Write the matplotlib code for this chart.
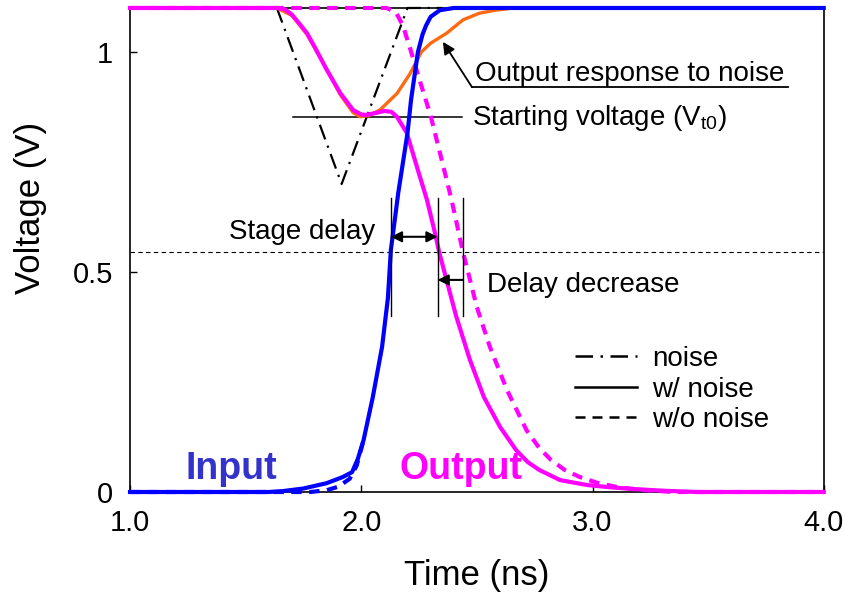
import matplotlib
matplotlib.use("Agg")
import matplotlib.pyplot as plt
from matplotlib.lines import Line2D

plt.rcParams['font.family'] = ['Liberation Sans', 'DejaVu Sans']
plt.rcParams['mathtext.fontset'] = 'custom'
plt.rcParams['mathtext.rm'] = 'Liberation Sans'
plt.rcParams['lines.solid_joinstyle'] = 'round'
plt.rcParams['lines.dash_joinstyle'] = 'round'

# input ramp (with and without noise are nearly identical)
t_in = [1.0, 1.60, 1.66, 1.75, 1.85, 1.92, 1.96, 1.985, 2.01, 2.05, 2.09, 2.115, 2.128,
        2.16, 2.20, 2.215, 2.245, 2.265, 2.28, 2.30, 2.34, 2.40, 4.0]
v_in = [0.0, 0.0, 0.002, 0.008, 0.02, 0.034, 0.045, 0.075, 0.118, 0.216, 0.33, 0.44, 0.55,
        0.68, 0.816, 0.89, 1.0, 1.04, 1.06, 1.08, 1.095, 1.1, 1.1]
t_in_nn = [1.0, 1.78, 1.85, 1.90, 1.95, 1.98, 2.01]
v_in_nn = [0.0, 0.0, 0.004, 0.012, 0.03, 0.06, 0.118]

# output with noise
t_out = [1.0, 1.635, 1.67, 1.70, 1.73, 1.765, 1.80, 1.85, 1.91, 1.965, 2.00, 2.02,
         2.06, 2.10, 2.13, 2.154, 2.197, 2.24, 2.284, 2.319, 2.337, 2.41, 2.47, 2.53,
         2.60, 2.67, 2.72, 2.77, 2.86, 2.975, 3.07, 3.17, 3.30, 3.45, 4.0]
v_out = [1.1, 1.1, 1.097, 1.085, 1.066, 1.043, 1.01, 0.96, 0.906, 0.868, 0.858, 0.857,
         0.861, 0.866, 0.864, 0.853, 0.816, 0.74, 0.664, 0.588, 0.545, 0.40, 0.30, 0.216,
         0.148, 0.095, 0.068, 0.05, 0.027, 0.016, 0.011, 0.007, 0.003, 0.0, 0.0]

# output without noise
t_out_nn = [1.0, 2.11, 2.15, 2.18, 2.21, 2.25, 2.30, 2.35, 2.39, 2.44, 2.50, 2.556,
            2.63, 2.715, 2.77, 2.82, 2.88, 2.945, 3.02, 3.10, 3.20, 3.35, 4.0]
v_out_nn = [1.1, 1.1, 1.09, 1.06, 1.01, 0.94, 0.855, 0.75, 0.665, 0.545, 0.42, 0.33,
            0.232, 0.14, 0.10, 0.073, 0.05, 0.034, 0.021, 0.012, 0.005, 0.0, 0.0]

# output response to noise only
t_resp = [1.635, 1.70, 1.765, 1.85, 1.91, 1.965, 1.995, 2.03, 2.08, 2.155, 2.21,
          2.26, 2.30, 2.37, 2.44, 2.51, 2.58, 2.66]
v_resp = [1.1, 1.083, 1.04, 0.962, 0.902, 0.862, 0.853, 0.855, 0.868, 0.906, 0.95,
          1.0, 1.02, 1.043, 1.073, 1.088, 1.095, 1.1]

# noise pulse
t_noise = [1.635, 1.915, 2.20, 2.35]
v_noise = [1.1, 0.70, 1.1, 1.1]

v_half = 0.545
v_t0 = 0.852
t_start_line = [1.705, 2.435]
t_marks = [2.128, 2.33, 2.44]

x_ticks = [1.0, 2.0, 3.0, 4.0]
y_ticks = [0, 0.5, 1]
y_tick_labels = ['0', '0.5', '1']

MAGENTA = '#ff00ff'
BLUE = '#0000ff'
ORANGE = '#ff6a10'

fig = plt.figure(figsize=(8.46, 6.0), dpi=100)
ax = fig.add_axes([0.1537, 0.18, 0.82, 0.8067])

ax.axhline(v_half, color='black', lw=0.8, dashes=(4, 3), zorder=1)
ax.plot(t_start_line, [v_t0, v_t0], color='black', lw=1.1, zorder=2)

ax.plot(t_noise, v_noise, color='black', lw=1.6, dashes=(7, 3, 1, 3), zorder=3, clip_on=False)
ax.plot(t_resp, v_resp, color=ORANGE, lw=2.4, zorder=4, clip_on=False)
ax.plot(t_out_nn, v_out_nn, color=MAGENTA, lw=3, dashes=(2.5, 1.8), zorder=5, clip_on=False)
ax.plot(t_out, v_out, color=MAGENTA, lw=3, zorder=6, clip_on=False)
ax.plot(t_in_nn, v_in_nn, color=BLUE, lw=3, dashes=(2.5, 1.8), zorder=6, clip_on=False)
ax.plot(t_in, v_in, color=BLUE, lw=3, zorder=7, clip_on=False)

# delay markers
for tm in t_marks:
    ax.plot([tm, tm], [0.40, 0.668], color='black', lw=1.0, zorder=8)
ax.annotate('', xy=(t_marks[0], 0.58), xytext=(t_marks[1], 0.58),
            arrowprops=dict(arrowstyle='<|-|>', color='black', lw=1.5,
                            mutation_scale=16, shrinkA=0, shrinkB=0), zorder=9)
ax.annotate('', xy=(t_marks[1], 0.482), xytext=(t_marks[2], 0.482),
            arrowprops=dict(arrowstyle='-|>', color='black', lw=1.5,
                            mutation_scale=16, shrinkA=0, shrinkB=0), zorder=9)

# output response to noise leader
ax.annotate('', xy=(2.353, 1.023), xytext=(2.479, 0.920),
            arrowprops=dict(arrowstyle='-|>', color='black', lw=1.3,
                            mutation_scale=18, shrinkA=0, shrinkB=0), zorder=9)
ax.plot([2.479, 3.845], [0.920, 0.920], color='black', lw=1.3, zorder=9)

fs = 20
ax.text(2.49, 0.935, 'Output response to noise', fontsize=fs, ha='left', va='baseline')
ax.text(2.479, 0.85, 'Starting voltage (V$_{\\rm t0}$)', fontsize=fs, ha='left', va='center')
ax.text(2.059, 0.59, 'Stage delay', fontsize=fs, ha='right', va='center')
ax.text(2.543, 0.47, 'Delay decrease', fontsize=fs, ha='left', va='center')
ax.text(1.238, 0.052, 'Input', fontsize=27, fontweight='bold', color='#3333cc',
        ha='left', va='center')
ax.text(2.167, 0.052, 'Output', fontsize=27, fontweight='bold', color=MAGENTA,
        ha='left', va='center')

handles = [Line2D([], [], color='black', lw=1.8, dashes=(7, 3, 1, 3)),
           Line2D([], [], color='black', lw=1.8),
           Line2D([], [], color='black', lw=1.8, dashes=(4, 2.8))]
ax.legend(handles, ['noise', 'w/ noise', 'w/o noise'], loc='upper left',
          bbox_to_anchor=(0.622, 0.33), frameon=False, fontsize=fs,
          handlelength=2.2, handletextpad=0.55, labelspacing=0.16, borderpad=0)

ax.set_xlim(1.0, 4.0)
ax.set_ylim(0, 1.1)
ax.set_xticks(x_ticks)
ax.set_xticklabels([f'{v:.1f}' for v in x_ticks])
ax.set_yticks(y_ticks)
ax.set_yticklabels(y_tick_labels)
ax.tick_params(direction='in', length=5, width=1, labelsize=21, pad=12)
for s in ax.spines.values():
    s.set_linewidth(1.2)

ax.set_xlabel('Time (ns)', fontsize=25, labelpad=16)
ax.set_ylabel('Voltage (V)', fontsize=25)
ax.yaxis.set_label_coords(-0.12, 0.587)

fig.savefig('out.png', dpi=100)
